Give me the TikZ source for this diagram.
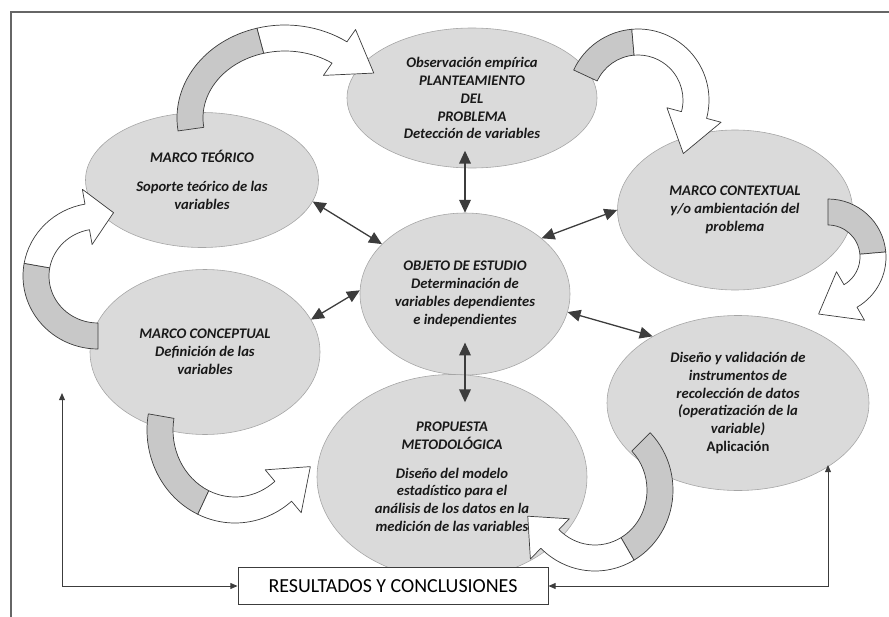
\documentclass[tikz,border=0pt]{standalone}
\usepackage{fontspec}
\setmainfont{Carlito}
\usepackage{tikz}
\usetikzlibrary{shapes.geometric, arrows.meta, calc}
\definecolor{rellenogris}{RGB}{218,218,218}
\definecolor{bordegris}{RGB}{165,165,165}
\definecolor{dorsogris}{RGB}{200,200,200}
\definecolor{trazo}{RGB}{60,60,60}

% flecha curva: cx, cy, rx, ry, angulo inicio, angulo cambio, angulo cabeza, largo punta
\newcommand{\flechacurva}[8]{%
  \pgfmathsetmacro\rxo{#3+13}\pgfmathsetmacro\ryo{#4+13}%
  \pgfmathsetmacro\rxi{#3-13}\pgfmathsetmacro\ryi{#4-13}%
  \pgfmathsetmacro\anext{#7+2*((#7>#6)-0.5)}%
  \coordinate (hb) at ({#1+#3*cos(#7)},{#2+#4*sin(#7)});
  \coordinate (hn) at ({#1+#3*cos(\anext)},{#2+#4*sin(\anext)});
  \draw[cinta, fill=dorsogris] ({#1+\rxo*cos(#5)},{#2+\ryo*sin(#5)})
    arc[start angle=#5, end angle=#6, x radius=\rxo, y radius=\ryo]
    -- ({#1+\rxi*cos(#6)},{#2+\ryi*sin(#6)})
    arc[start angle=#6, end angle=#5, x radius=\rxi, y radius=\ryi] -- cycle;
  \draw[cinta, fill=white] ({#1+\rxo*cos(#6)},{#2+\ryo*sin(#6)})
    arc[start angle=#6, end angle=#7, x radius=\rxo, y radius=\ryo]
    -- ({#1+(#3+28)*cos(#7)},{#2+(#4+28)*sin(#7)}) -- ($(hb)!#8!(hn)$)
    -- ({#1+(#3-28)*cos(#7)},{#2+(#4-28)*sin(#7)})
    -- ({#1+\rxi*cos(#7)},{#2+\ryi*sin(#7)})
    arc[start angle=#7, end angle=#6, x radius=\rxi, y radius=\ryi] -- cycle;
}

\begin{document}
\begin{tikzpicture}[
    x=0.03cm, y=-0.03cm,
    etapa/.style 2 args={ellipse, fill=rellenogris, draw=bordegris, line width=0.5pt,
                minimum width=#1*0.03cm, minimum height=#2*0.03cm, inner sep=0pt,
                align=center, text=black!90,
                font=\fontsize{12.5}{15.3}\selectfont\bfseries\itshape},
    resultado/.style={rectangle, draw=trazo, fill=white, line width=0.8pt,
                minimum width=9.3cm, minimum height=1.1cm,
                font=\fontsize{17}{20}\selectfont},
    doble/.style={{Triangle[length=11pt,width=10pt]}-{Triangle[length=11pt,width=10pt]},
                line width=1.1pt, trazo},
    guia/.style={{Triangle[length=6pt,width=5pt]}-{Triangle[length=6pt,width=5pt]},
                line width=0.8pt, trazo},
    cinta/.style={draw=trazo, line width=0.6pt, line join=round}
]
\useasboundingbox (0,0) rectangle (889,617);

% marco exterior
\draw[line width=1.2pt, black!60] (11,617) -- (11,12) -- (889,12);

% etapas
\node[etapa={250}{140}] (obs) at (472,98) {Observación empírica\\PLANTEAMIENTO\\DEL\\PROBLEMA\\Detección de variables};
\node[etapa={233}{135}] (teorico) at (202,180) {MARCO TEÓRICO\\[9pt]Soporte teórico de las\\variables};
\node[etapa={235}{160}] (contextual) at (735,210) {MARCO CONTEXTUAL\\y/o ambientación del\\problema};
\node[etapa={210}{162}] (objeto) at (465,294) {OBJETO DE ESTUDIO\\Determinación de\\variables dependientes\\e independientes};
\node[etapa={230}{165}] (conceptual) at (205,352) {MARCO CONCEPTUAL\\Definición de las\\variables};
\node[etapa={262}{175}] (diseno) at (738,403) {Diseño y validación de\\instrumentos de\\recolección de datos\\(operatización de la\\variable)\\{\upshape Aplicación}};
\node[etapa={270}{205}] (propuesta) at (452,477) {PROPUESTA\\METODOLÓGICA\\[9pt]Diseño del modelo\\estadístico para el\\análisis de los datos en la\\medición de las variables};

% relaciones con el objeto de estudio
\draw[doble, shorten <=-15pt] (objeto.north |- obs.south) -- (objeto.north);
\draw[doble, shorten <=-23pt, shorten >=-27pt] (objeto.south) -- (objeto.south |- propuesta.north);
\draw[doble] (teorico.-11) -- (objeto.149);
\draw[doble] (contextual.180) -- (objeto.36);
\draw[doble] (conceptual.17) -- (objeto.178);
\draw[doble] (objeto.-10) -- (diseno.142);

% ciclo
\flechacurva{285}{118}{95}{80}{172}{255}{305}{1.2cm}
\flechacurva{638}{100}{58}{58}{205}{265}{375}{1.2cm}
\flechacurva{828}{257}{45}{45}{270}{355}{420}{1.1cm}
\flechacurva{595}{490}{65}{68}{315}{420}{494}{0.95cm}
\flechacurva{235}{430}{75}{80}{190}{115}{50}{1.1cm}
\flechacurva{98}{276}{62}{60}{90}{190}{260}{0.8cm}

% resultados
\node[resultado] (resultados) at (393,586) {RESULTADOS Y CONCLUSIONES};
\coordinate (retizq) at (62,393);
\coordinate (retder) at (828,465);
\draw[guia] (retizq) |- (resultados.west);
\draw[guia] (retder) |- (resultados.east);

\end{tikzpicture}
\end{document}
